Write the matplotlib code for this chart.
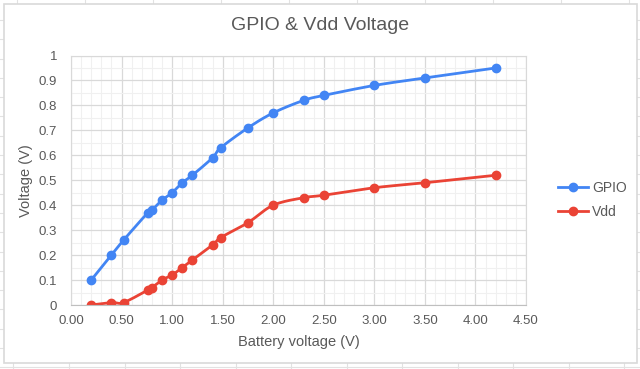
import numpy as np
import matplotlib.pyplot as plt
from matplotlib.patches import Rectangle
from matplotlib.lines import Line2D

plt.rcParams['font.family'] = ['Liberation Sans', 'DejaVu Sans']

# data
battery = [0.2, 0.4, 0.52, 0.76, 0.8, 0.9, 1.0, 1.1, 1.2, 1.4, 1.48, 1.75, 2.0, 2.3, 2.5, 3.0, 3.5, 4.2]
gpio = [0.10, 0.20, 0.26, 0.37, 0.38, 0.42, 0.45, 0.49, 0.52, 0.59, 0.63, 0.71, 0.77, 0.82, 0.84, 0.88, 0.91, 0.95]
vdd = [0.00, 0.01, 0.01, 0.06, 0.07, 0.10, 0.12, 0.15, 0.18, 0.24, 0.27, 0.33, 0.40, 0.43, 0.44, 0.47, 0.49, 0.52]

x_ticks = [0, 0.5, 1, 1.5, 2, 2.5, 3, 3.5, 4, 4.5]
y_ticks = [0, 0.1, 0.2, 0.3, 0.4, 0.5, 0.6, 0.7, 0.8, 0.9, 1]

BLUE = '#4285F4'
RED = '#EA4335'
TXT = '#595959'


def smooth(xs, ys, n=20):
    # spreadsheet-style smoothed line (cardinal bezier through points)
    p = np.column_stack([xs, ys]).astype(float)
    pts = []
    for i in range(len(p) - 1):
        p0 = p[i - 1] if i > 0 else p[i]
        p1, p2 = p[i], p[i + 1]
        p3 = p[i + 2] if i + 2 < len(p) else p[i + 1]
        c1 = p1 + (p2 - p0) / 6
        c2 = p2 - (p3 - p1) / 6
        t = np.linspace(0, 1, n)[:, None]
        seg = (1 - t) ** 3 * p1 + 3 * (1 - t) ** 2 * t * c1 + 3 * (1 - t) * t ** 2 * c2 + t ** 3 * p2
        pts.append(seg)
    pts = np.vstack(pts)
    return pts[:, 0], pts[:, 1]


fig = plt.figure(figsize=(6.4, 3.69), dpi=100)

# spreadsheet cells behind the chart
for xc in [13, 69, 125, 180, 236, 291, 347, 402, 458, 513, 569, 624]:
    fig.add_artist(Line2D([xc / 640, xc / 640], [0, 0.5], color='#E2E2E2', lw=0.8, zorder=-3))
for xc in [17, 85, 153, 221, 289, 357, 425, 493, 561, 629]:
    fig.add_artist(Line2D([xc / 640, xc / 640], [0.5, 1], color='#E2E2E2', lw=0.8, zorder=-3))
for yr in np.arange(20, 369, 19.3):
    fig.add_artist(Line2D([0, 1], [1 - yr / 369] * 2, color='#E2E2E2', lw=0.8, zorder=-3))
fig.add_artist(Rectangle((3.5 / 640, 1 - 363 / 369), 633 / 640, 359 / 369,
                         facecolor='white', edgecolor='#D9D9D9', lw=1.2, zorder=-2))

ax = fig.add_axes([71 / 640, 1 - 305 / 369, 455 / 640, 249.5 / 369])
ax.set_xlim(0, 4.5)
ax.set_ylim(0, 1)
ax.set_xticks(x_ticks)
ax.set_xticklabels([f'{v:.2f}' for v in x_ticks])
ax.set_yticks(y_ticks)
ax.set_yticklabels([f'{v:g}' for v in y_ticks])
ax.set_xticks(np.arange(0, 4.51, 0.1), minor=True)
ax.set_yticks(np.arange(0, 1.01, 0.05), minor=True)
ax.grid(which='major', color='#D9D9D9', lw=0.9)
ax.grid(which='minor', color='#F0F0F0', lw=0.8)
ax.set_axisbelow(True)
for s in ax.spines.values():
    s.set_color('#D9D9D9')
ax.spines['bottom'].set_color('#BFBFBF')
ax.tick_params(which='both', length=0, colors=TXT, labelsize=9.5)
ax.tick_params(axis='x', pad=7)
ax.tick_params(axis='y', pad=10)

for ys, col, name in [(gpio, BLUE, 'GPIO'), (vdd, RED, 'Vdd')]:
    sx, sy = smooth(battery, ys)
    ax.plot(sx, sy, color=col, lw=2, solid_capstyle='round')
    ax.plot(battery, ys, 'o', color=col, ms=6)
    ax.plot([], [], '-o', color=col, lw=2, ms=6, label=name)

ax.set_xlabel('Battery voltage (V)', color=TXT, fontsize=10.5, labelpad=6)
ax.set_ylabel('Voltage (V)', color=TXT, fontsize=10.5, labelpad=4)
fig.text(0.5, 1 - 25 / 369, 'GPIO & Vdd Voltage', ha='center', va='center',
         color=TXT, fontsize=14)

leg = ax.legend(loc='center left', bbox_to_anchor=(552 / 640, 1 - 200 / 369),
                bbox_transform=fig.transFigure, frameon=False, fontsize=10,
                handlelength=2.2, handletextpad=0.3, labelspacing=0.75,
                borderaxespad=0)
for t in leg.get_texts():
    t.set_color(TXT)

fig.savefig('out.png', dpi=100)
